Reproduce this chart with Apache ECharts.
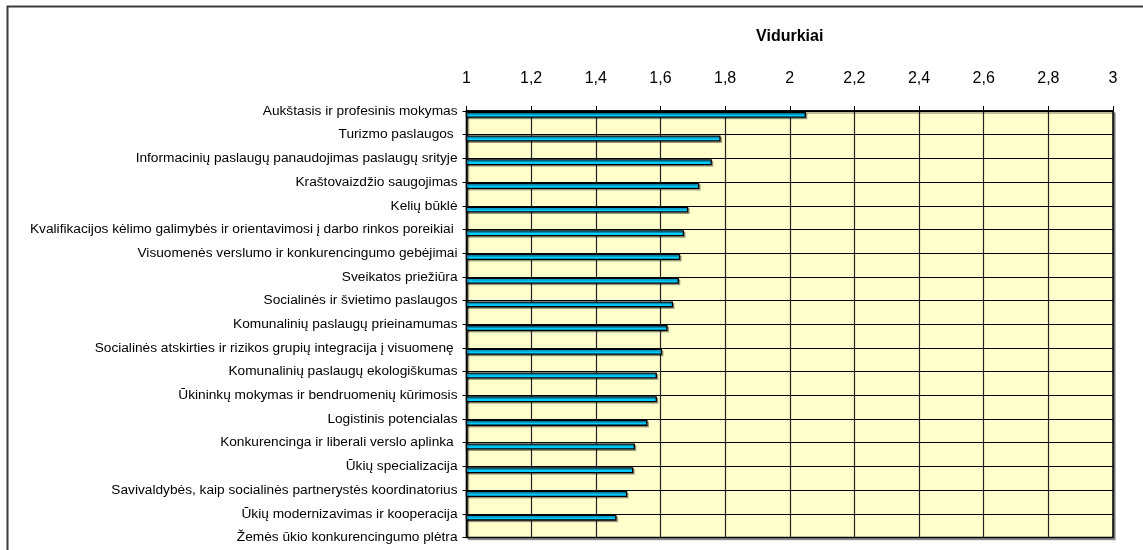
<!DOCTYPE html>
<html>
<head>
<meta charset="utf-8">
<script src="https://cdn.jsdelivr.net/npm/echarts@6/dist/echarts.min.js"></script>
<style>
  html, body { margin: 0; padding: 0; background: #fff; }
  #chart { width: 1143px; height: 550px; }
</style>
</head>
<body>
<div id="chart"></div>
<script>
// category labels sit on the horizontal lines; bars hang just below each line
const categories = [
  "Aukštasis ir profesinis mokymas",
  "Turizmo paslaugos ",
  "Informacinių paslaugų panaudojimas paslaugų srityje",
  "Kraštovaizdžio saugojimas",
  "Kelių būklė",
  "Kvalifikacijos kėlimo galimybės ir orientavimosi į darbo rinkos poreikiai ",
  "Visuomenės verslumo ir konkurencingumo gebėjimai",
  "Sveikatos priežiūra",
  "Socialinės ir švietimo paslaugos",
  "Komunalinių paslaugų prieinamumas",
  "Socialinės atskirties ir rizikos grupių integracija į visuomenę ",
  "Komunalinių paslaugų ekologiškumas",
  "Ūkininkų mokymas ir bendruomenių kūrimosis",
  "Logistinis potencialas",
  "Konkurencinga ir liberali verslo aplinka ",
  "Ūkių specializacija",
  "Savivaldybės, kaip socialinės partnerystės koordinatorius",
  "Ūkių modernizavimas ir kooperacija",
  "Žemės ūkio konkurencingumo plėtra"
];

const averages = [2.05, 1.786, 1.759, 1.72, 1.686, 1.673, 1.661, 1.657, 1.639,
  1.622, 1.605, 1.589, 1.589, 1.56, 1.521, 1.516, 1.497, 1.464];

const axisMin = 1;
const axisMax = 3;
const axisStep = 0.2;
const axisTitle = "Vidurkiai";

const chart = echarts.init(document.getElementById("chart"));
const font = "'Liberation Sans', Arial, sans-serif";

chart.setOption({
  backgroundColor: "#fff",
  animation: false,
  textStyle: { fontFamily: font },
  graphic: [{
    type: "rect",
    silent: true,
    shape: { x: 7.5, y: 6.5, width: 1300, height: 700 },
    style: { fill: "none", stroke: "#3a3a3a", lineWidth: 2 }
  }],
  grid: {
    left: 466.5, right: 30, top: 111, bottom: 12.5,
    show: true,
    backgroundColor: "#FFFFCC",
    borderColor: "#000",
    borderWidth: 1.5,
    shadowColor: "rgba(0,0,0,0.35)",
    shadowOffsetX: 2,
    shadowOffsetY: 2,
    shadowBlur: 0
  },
  xAxis: {
    type: "value",
    position: "top",
    min: axisMin,
    max: axisMax,
    interval: axisStep,
    name: axisTitle,
    nameLocation: "middle",
    nameGap: 66,
    nameTextStyle: { fontSize: 16, fontWeight: "bold", color: "#000", fontFamily: font },
    axisLine: { show: true, lineStyle: { color: "#000", width: 1.5 } },
    axisTick: { show: true, length: 5, lineStyle: { color: "#000" } },
    axisLabel: {
      fontSize: 16, color: "#000", margin: 24, fontFamily: font,
      formatter: v => String(Math.round(v * 10) / 10).replace(".", ",")
    },
    splitLine: { show: true, lineStyle: { color: "#222", width: 1.2 } }
  },
  yAxis: [{
    type: "category",
    data: categories,
    inverse: true,
    boundaryGap: false,
    axisLine: { show: true, lineStyle: { color: "#000", width: 1.5 } },
    axisTick: { show: true, length: 4, lineStyle: { color: "#000" } },
    axisLabel: { fontSize: 13.7, color: "#000", margin: 9, interval: 0, fontFamily: font },
    splitLine: { show: true, lineStyle: { color: "#000", width: 1.2 } }
  }, {
    type: "category",
    data: categories.slice(0, averages.length),
    inverse: true,
    position: "left",
    show: false
  }],
  series: [{
    type: "bar",
    yAxisIndex: 1,
    data: averages,
    barWidth: 6,
    barGap: "0%",
    itemStyle: {
      color: "#00CCFF",
      borderColor: "#000",
      borderWidth: 1.3,
      shadowColor: "rgba(0,0,0,0.3)",
      shadowOffsetX: 1.5,
      shadowOffsetY: 1.5
    }
  }, {
    type: "bar",
    yAxisIndex: 1,
    data: averages.map(() => null),
    barWidth: 16,
    barGap: "0%"
  }]
});
</script>
</body>
</html>
